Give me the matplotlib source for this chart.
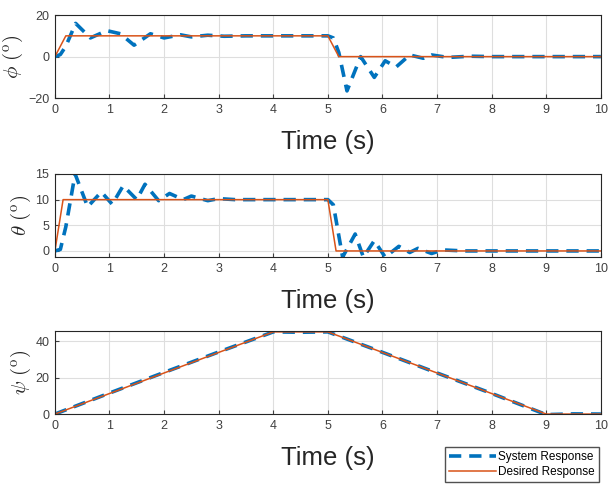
import matplotlib
matplotlib.use("Agg")
import matplotlib.pyplot as plt

plt.rcParams['font.family'] = ['Liberation Sans', 'DejaVu Sans']
plt.rcParams['mathtext.fontset'] = 'cm'

# Desired trajectories (time, angle in degrees)
phi_des_t = [0, 0.2, 5.0, 5.2, 10]
phi_des = [0, 10, 10, 0, 0]
theta_des_t = [0, 0.15, 5.0, 5.15, 10]
theta_des = [0, 10, 10, 0, 0]
psi_des_t = [0, 4, 5, 9, 10]
psi_des = [0, 45, 45, 0, 0]

# System responses
phi_sys_t = [0, 0.1, 0.2, 0.38, 0.65, 0.95, 1.2, 1.45, 1.75, 2.0, 2.3, 2.5, 2.8, 3.1, 3.5,
             5.0, 5.1, 5.2, 5.35, 5.6, 5.85, 6.05, 6.25, 6.5, 6.75, 6.9, 7.2, 7.6, 8.0, 10]
phi_sys = [0, 1, 5, 16, 9, 12.5, 11, 5.5, 11, 9, 10.5, 9.5, 10.3, 9.8, 10,
           10, 9, 2, -16.5, 0, -10, -2, -5, 0.8, -0.8, 0.8, -0.4, 0.2, 0, 0]
theta_sys_t = [0, 0.1, 0.2, 0.37, 0.6, 0.85, 1.05, 1.25, 1.5, 1.65, 1.9, 2.1, 2.35, 2.5, 2.8, 3.0, 3.3,
               5.0, 5.1, 5.27, 5.5, 5.65, 5.85, 6.05, 6.3, 6.5, 6.65, 6.9, 7.1, 7.5, 10]
theta_sys = [0, 0.3, 4.7, 15.0, 8.6, 11.5, 9.1, 12.7, 10, 13, 9.8, 11.2, 10, 10.7, 9.8, 10.2, 10,
             10, 9, -1.2, 3.3, -1.2, 2, -1.2, 0.9, -0.3, 0.5, -0.5, 0.2, 0, 0]
psi_sys_t = [0, 1, 2, 3, 4, 4.5, 5, 6, 7, 8, 9, 9.5, 10]
psi_sys = [0, 11.5, 22.8, 34, 45, 44.8, 45, 33.8, 22.5, 11.3, -0.3, 0.1, 0]

panels = [
    (phi_sys_t, phi_sys, phi_des_t, phi_des, r'$\phi\ (^{\mathrm{o}})$', (-20, 20), [-20, 0, 20]),
    (theta_sys_t, theta_sys, theta_des_t, theta_des, r'$\theta\ (^{\mathrm{o}})$', (-1.2, 15), [0, 5, 10, 15]),
    (psi_sys_t, psi_sys, psi_des_t, psi_des, r'$\psi\ (^{\mathrm{o}})$', (0, 45.5), [0, 20, 40]),
]
bottoms = [0.798, 0.471, 0.148]

fig = plt.figure(figsize=(6.1, 4.86), dpi=100)

for (st, sv, dt, dv, ylab, ylim, yticks), b in zip(panels, bottoms):
    ax = fig.add_axes([0.090, b, 0.895, 0.171])
    ax.plot(st, sv, color='#0072BD', linestyle='--', linewidth=2.6,
            dashes=(3.4, 2.2), label='System Response')
    ax.plot(dt, dv, color='#D95319', linewidth=1.1, label='Desired Response')
    ax.set_xlim(0, 10)
    ax.set_ylim(*ylim)
    ax.set_xticks(range(0, 11))
    ax.set_yticks(yticks)
    ax.grid(True, color='#dedede', linewidth=0.8)
    ax.set_axisbelow(True)
    ax.tick_params(direction='in', labelsize=9, colors='#404040', length=3, pad=4)
    for s in ax.spines.values():
        s.set_color('#262626')
    ax.set_xlabel('Time (s)', fontsize=18.5, color='#262626', labelpad=10)
    ax.set_ylabel(ylab, fontsize=15, color='#262626', labelpad=2)

handles, labels = ax.get_legend_handles_labels()
fig.legend(handles, labels, loc='lower right', bbox_to_anchor=(0.988, 0.0),
           fontsize=8.5, frameon=True, fancybox=False, edgecolor='#262626',
           borderpad=0.35, handlelength=4.0, labelspacing=0.3, handletextpad=0.2,
           borderaxespad=0.3)

fig.savefig('out.png', dpi=100)
